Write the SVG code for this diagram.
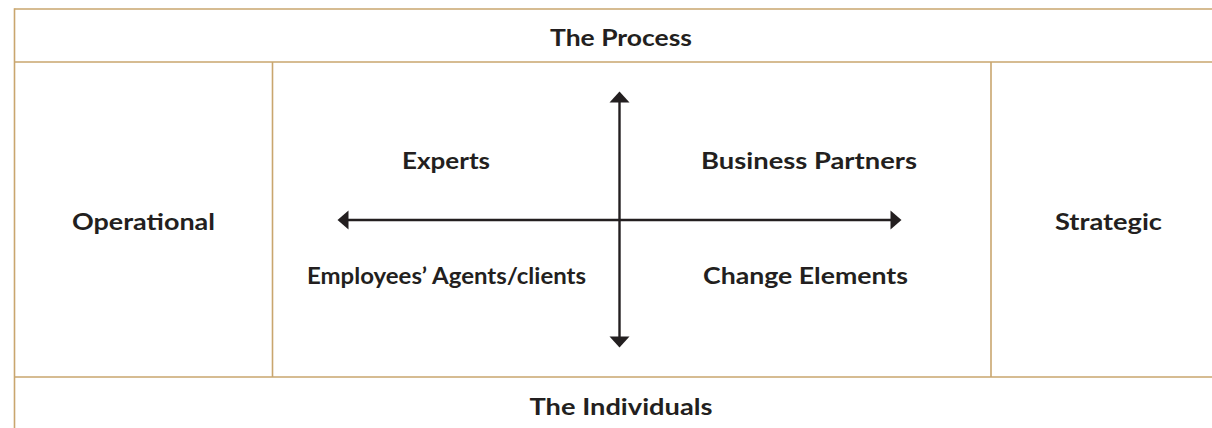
<svg xmlns="http://www.w3.org/2000/svg" width="1212" height="428" viewBox="0 0 1212 428">
  <style>
    .grid { stroke: #c9a66e; stroke-width: 1.6; fill: none; }
    .axis { stroke: #231f20; stroke-width: 2.4; fill: none; }
    .head { fill: #231f20; }
    .lbl { font-family: Lato, "Open Sans", "Liberation Sans", sans-serif; font-weight: bold; font-size: 22px; fill: #231f20; }
  </style>

  <!-- table frame -->
  <g id="frame">
    <line class="grid" x1="14.5" y1="9" x2="1212" y2="9"/>
    <line class="grid" x1="14.5" y1="62" x2="1212" y2="62"/>
    <line class="grid" x1="14.5" y1="377" x2="1212" y2="377"/>
    <line class="grid" x1="14.5" y1="8.2" x2="14.5" y2="428"/>
    <line class="grid" x1="272.5" y1="62" x2="272.5" y2="377"/>
    <line class="grid" x1="991" y1="62" x2="991" y2="377"/>
  </g>

  <!-- axes -->
  <g id="connectors">
    <line class="axis" x1="619.5" y1="100" x2="619.5" y2="339"/>
    <polygon class="head" points="619.5,91.5 609.5,102.5 629.5,102.5"/>
    <polygon class="head" points="619.5,347.5 609.5,336.5 629.5,336.5"/>
    <line class="axis" x1="346" y1="220" x2="892" y2="220"/>
    <polygon class="head" points="337.5,220 348.5,210.5 348.5,229.5"/>
    <polygon class="head" points="901.5,220 890.5,210.5 890.5,229.5"/>
  </g>

  <g id="process"><text class="lbl" x="621" y="46" text-anchor="middle" textLength="142" lengthAdjust="spacingAndGlyphs">The Process</text></g>
  <g id="operational"><text class="lbl" x="143.5" y="230" text-anchor="middle" textLength="143" lengthAdjust="spacingAndGlyphs">Operational</text></g>
  <g id="strategic"><text class="lbl" x="1108.5" y="230" text-anchor="middle" textLength="107" lengthAdjust="spacingAndGlyphs">Strategic</text></g>
  <g id="experts"><text class="lbl" x="446" y="168.5" text-anchor="middle" textLength="88" lengthAdjust="spacingAndGlyphs">Experts</text></g>
  <g id="business-partners"><text class="lbl" x="809" y="168.5" text-anchor="middle" textLength="216" lengthAdjust="spacingAndGlyphs">Business Partners</text></g>
  <g id="employees"><text class="lbl" x="446.5" y="283.5" text-anchor="middle" textLength="279" lengthAdjust="spacingAndGlyphs">Employees’ Agents/clients</text></g>
  <g id="change-elements"><text class="lbl" x="805.5" y="283.5" text-anchor="middle" textLength="205" lengthAdjust="spacingAndGlyphs">Change Elements</text></g>
  <g id="individuals"><text class="lbl" x="621" y="415" text-anchor="middle" textLength="183" lengthAdjust="spacingAndGlyphs">The Individuals</text></g>
</svg>
